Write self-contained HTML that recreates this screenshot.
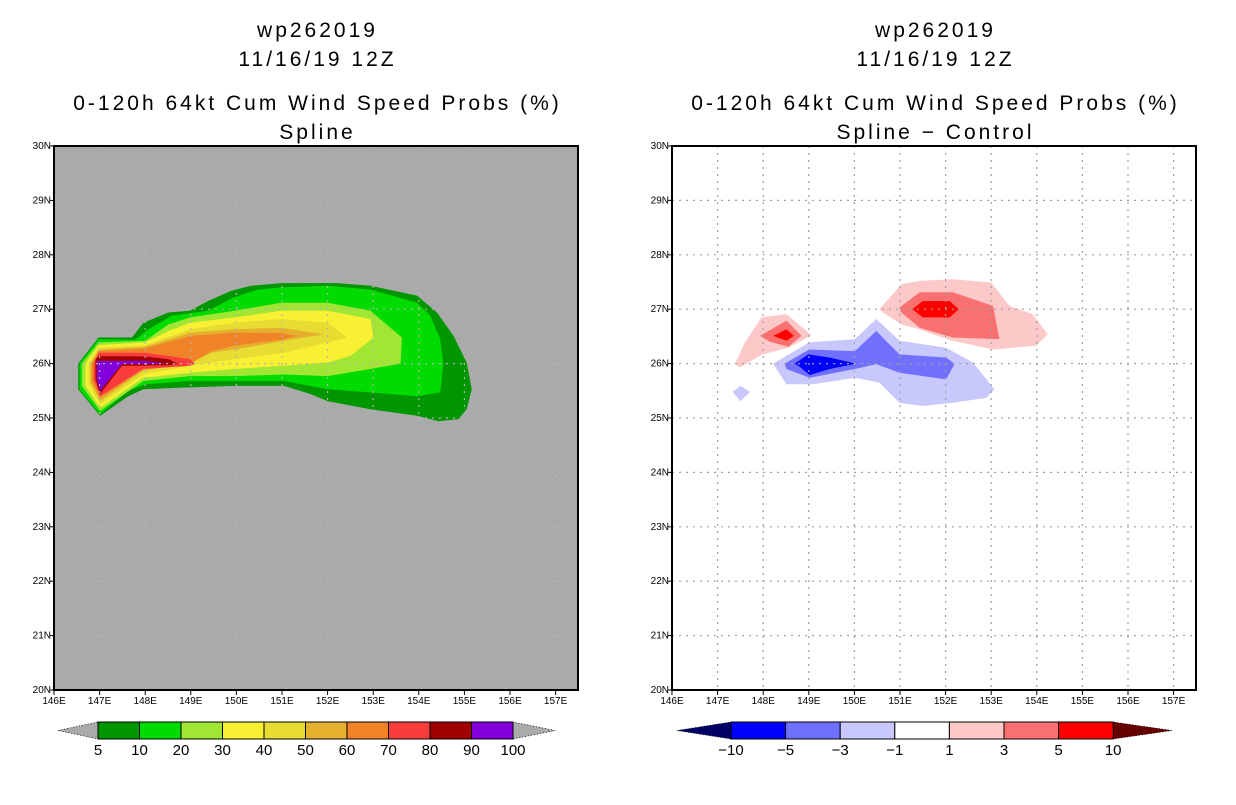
<!DOCTYPE html>
<html><head><meta charset="utf-8"><style>
body{margin:0;background:#fff;width:1236px;height:800px;overflow:hidden}
svg text{font-family:"Liberation Sans",sans-serif}
</style></head><body>
<svg id="root" width="1236" height="800" xmlns="http://www.w3.org/2000/svg"></svg>
<script>
// ---- data: contour polygons [lon,lat] ----
const leftLevels = [5,10,20,30,40,50,60,70,80,90,100];
const leftColors = ['#009600','#00dc00','#a0e632','#f8f032','#e6dc32','#e6af2d','#f08228','#fa3c3c','#a00000','#8200dc'];
const leftPolys = [
 [[146.53,26.0],[146.98,26.48],[147.71,26.48],[147.96,26.75],[148.51,26.94],[148.98,26.97],[149.38,27.15],[149.89,27.34],[150.32,27.43],[150.98,27.48],[152.21,27.48],[152.94,27.43],[153.96,27.25],[154.4,26.94],[154.76,26.51],[155.05,26.02],[155.16,25.53],[155.05,25.16],[154.87,24.98],[154.43,24.94],[153.96,25.04],[152.94,25.16],[152.0,25.31],[151.63,25.44],[151.05,25.59],[149.96,25.59],[148.87,25.56],[147.96,25.53],[147.63,25.4],[147.01,25.04],[146.53,25.53]],
 [[146.56,26.0],[146.98,26.45],[147.78,26.44],[148.07,26.63],[148.58,26.88],[149.38,26.97],[149.92,27.21],[150.47,27.36],[150.98,27.4],[152.0,27.43],[152.94,27.36],[153.96,27.12],[154.25,26.88],[154.47,26.45],[154.54,26.0],[154.47,25.47],[153.96,25.4],[152.94,25.47],[152.0,25.53],[151.05,25.68],[149.96,25.68],[148.98,25.68],[148.0,25.62],[147.63,25.5],[147.01,25.07],[146.56,25.53]],
 [[146.61,26.0],[146.98,26.39],[148.0,26.42],[148.51,26.72],[148.98,26.85],[149.96,26.97],[150.98,27.12],[152.0,27.12],[152.94,26.97],[153.63,26.48],[153.6,26.0],[152.94,25.9],[152.0,25.77],[151.05,25.8],[149.96,25.77],[148.98,25.77],[147.96,25.68],[147.01,25.13],[146.61,25.59]],
 [[146.69,26.0],[146.98,26.34],[148.0,26.39],[148.51,26.6],[148.98,26.75],[149.96,26.85],[150.98,26.97],[152.0,26.97],[152.94,26.82],[153.01,26.48],[152.5,26.14],[152.0,26.02],[151.05,25.96],[149.96,25.9],[148.98,25.83],[147.96,25.74],[147.01,25.19],[146.69,25.59]],
 [[146.76,26.0],[146.98,26.29],[148.0,26.34],[148.98,26.63],[149.96,26.75],[150.98,26.82],[152.0,26.75],[152.43,26.48],[152.0,26.39],[151.05,26.2],[149.96,26.08],[148.98,25.96],[147.96,25.8],[147.01,25.25],[146.76,25.62]],
 [[146.8,26.0],[146.98,26.26],[148.0,26.31],[148.98,26.57],[149.96,26.63],[150.98,26.66],[151.92,26.54],[151.05,26.42],[149.96,26.26],[149.45,26.2],[148.98,26.0],[147.96,25.87],[147.01,25.31],[146.8,25.65]],
 [[146.83,26.0],[146.98,26.23],[148.0,26.28],[148.98,26.51],[149.96,26.57],[150.98,26.56],[151.31,26.51],[150.98,26.44],[149.96,26.33],[149.45,26.23],[148.98,26.0],[147.96,25.9],[147.01,25.37],[146.83,25.68]],
 [[146.87,26.0],[146.98,26.2],[148.0,26.2],[148.51,26.14],[148.98,26.08],[149.09,26.0],[148.98,25.96],[147.96,25.9],[147.01,25.4],[146.87,25.71]],
 [[146.91,26.08],[146.98,26.14],[148.0,26.13],[148.51,26.08],[148.72,26.0],[148.51,25.97],[147.49,25.96],[147.01,25.44],[146.91,25.71]],
 [[146.94,26.05],[148.0,26.05],[148.47,26.0],[147.49,25.99],[147.01,25.5],[146.94,25.71]]
];
const rightLevels = [-10,-5,-3,-1,1,3,5,10];
const rightPolys = [
 {c:'#fcc8c8',p:[[150.55,27.0],[151.03,27.46],[151.43,27.52],[152.16,27.55],[153.0,27.49],[153.4,27.06],[153.91,26.91],[154.24,26.54],[153.99,26.33],[153.04,26.26],[152.16,26.42],[151.72,26.54],[151.43,26.63],[151.03,26.72],[150.63,26.94]]},
 {c:'#fcc8c8',p:[[147.38,25.99],[147.6,26.39],[147.96,26.85],[148.51,26.91],[149.06,26.52],[148.55,26.29],[147.99,26.17],[147.49,25.93]]},
 {c:'#f87070',p:[[150.99,27.03],[151.43,27.31],[152.16,27.31],[153.04,27.06],[153.18,26.45],[152.16,26.48],[151.43,26.66],[151.03,26.94]]},
 {c:'#f87070',p:[[147.93,26.51],[148.51,26.79],[148.84,26.51],[148.55,26.31],[148.15,26.4]]},
 {c:'#ff0000',p:[[151.27,27.0],[151.5,27.15],[152.09,27.15],[152.29,27.0],[152.09,26.85],[151.5,26.85]]},
 {c:'#ff0000',p:[[148.22,26.51],[148.51,26.63],[148.67,26.51],[148.51,26.42]]},
 {c:'#c8c8fc',p:[[148.22,26.0],[149.01,26.39],[150.01,26.45],[150.48,26.82],[150.99,26.42],[152.01,26.29],[152.6,26.02],[153.07,25.53],[152.89,25.37],[152.16,25.28],[151.5,25.22],[150.99,25.28],[150.55,25.65],[150.01,25.74],[149.09,25.62],[148.51,25.62],[148.29,25.9]]},
 {c:'#c8c8fc',p:[[147.33,25.48],[147.5,25.59],[147.71,25.48],[147.5,25.31]]},
 {c:'#7070fc',p:[[148.47,26.0],[149.01,26.26],[150.01,26.23],[150.48,26.6],[150.99,26.17],[152.01,26.11],[152.2,26.0],[152.01,25.71],[150.99,25.83],[150.48,25.99],[150.01,25.9],[149.02,25.74],[148.51,25.9]]},
 {c:'#0000fc',p:[[148.69,26.0],[148.99,26.17],[149.46,26.11],[150.04,26.0],[149.46,25.9],[149.02,25.79],[148.77,25.96]]}
];
const lonTicks = [146,147,148,149,150,151,152,153,154,155,156,157];
const latTicks = [20,21,22,23,24,25,26,27,28,29,30];

const NS='http://www.w3.org/2000/svg';
const root=document.getElementById('root');
function mk(tag,attrs,parent){const e=document.createElementNS(NS,tag);for(const k in attrs)e.setAttribute(k,attrs[k]);(parent||root).appendChild(e);return e;}
function txt(x,y,s,size,anchor,parent){const t=mk('text',{x:x,y:y,'font-size':size,'text-anchor':anchor||'middle',fill:'#000'},parent);t.textContent=s;return t;}

function panel(x0,name,bg,titles){
  const g=mk('g',{});
  
  
  const X=lon=>x0+(lon-146)*45.6, Y=lat=>146+(30-lat)*54.4;
  const fr=mk('rect',{x:x0,y:146,width:524,height:544,fill:bg},g);
  
  
  const cx=x0+262;
  titles.forEach((t,i)=>{const e=txt(cx+1.5,[37,66,110,139][i],t,21,'middle',g);
    e.setAttribute('letter-spacing','3');
    
    });
  return {g,X,Y,x0};
}
function grid(P,col){
  lonTicks.forEach(l=>{if(l>146){const e=mk('line',{x1:P.X(l),x2:P.X(l),y1:146,y2:690,stroke:col,'stroke-width':1.2,'stroke-dasharray':'2,5'},P.g);
    }});
  latTicks.forEach(l=>{if(l>20&&l<30){const e=mk('line',{x1:P.x0,x2:P.x0+524,y1:P.Y(l),y2:P.Y(l),stroke:col,'stroke-width':1.2,'stroke-dasharray':'2,5'},P.g);
    }});
}
function axes(P){
  const f=mk('rect',{x:P.x0,y:146,width:524,height:544,fill:'none',stroke:'#000','stroke-width':2},P.g);
  
  lonTicks.forEach(l=>{mk('line',{x1:P.X(l),x2:P.X(l),y1:690,y2:695,stroke:'#000'},P.g);
    const t=txt(P.X(l),704,l+'E',10,'middle',P.g);
    });
  latTicks.forEach(l=>{mk('line',{x1:P.x0-4,x2:P.x0,y1:P.Y(l),y2:P.Y(l),stroke:'#000'},P.g);
    const t=txt(P.x0-3,P.Y(l)+3,l+'N',10,'end',P.g);
    });
}
function poly(P,pts,col){
  const e=mk('polygon',{points:pts.map(p=>P.X(p[0]).toFixed(1)+','+P.Y(p[1]).toFixed(1)).join(' '),fill:col},P.g);
  
}
function colorbar(name,x0,w,tipL,tipR,colors,labels,tipLc,tipRc){
  const g=mk('g',{});
  
  const y0=722,y1=739,ym=730.5;
  mk('polygon',{points:`${tipL},${ym} ${x0},${y0} ${x0},${y1}`,fill:tipLc,stroke:'#000','stroke-width':0.6,'stroke-dasharray':'1.5,1.5'},g);
  const xe=x0+w*colors.length;
  mk('polygon',{points:`${tipR},${ym} ${xe},${y0} ${xe},${y1}`,fill:tipRc,stroke:'#000','stroke-width':0.6,'stroke-dasharray':'1.5,1.5'},g);
  colors.forEach((c,i)=>{const r=mk('rect',{x:x0+i*w,y:y0,width:w,height:y1-y0,fill:c,stroke:'#000','stroke-width':1},g);
    });
  labels.forEach((l,i)=>{const t=txt(x0+i*w,755,String(l).replace('-','\u2212'),15,'middle',g);
    });
}

// left panel
const L=panel(54,'left-panel','#aaaaaa',['wp262019','11/16/19 12Z','0-120h 64kt Cum Wind Speed Probs (%)','Spline']);
leftPolys.forEach((p,i)=>poly(L,p,leftColors[i]));
grid(L,'#b4b4b4');
axes(L);
colorbar('left-colorbar',98,41.5,58,555,leftColors,leftLevels,'#aaaaaa','#aaaaaa');

// right panel
const R=panel(672,'right-panel','#ffffff',['wp262019','11/16/19 12Z','0-120h 64kt Cum Wind Speed Probs (%)','Spline \u2212 Control']);
rightPolys.forEach(o=>poly(R,o.p,o.c));
grid(R,'#a0a0a0');
axes(R);
const rightColors=['#0000ff','#7070ff','#c8c8ff','#ffffff','#ffc8c8','#f87070','#ff0000'];
colorbar('right-colorbar',731,54.6,677,1172,rightColors,[],'#000064','#640000');
rightLevels.forEach((l,i)=>{const t=txt(731+i*54.6,755,String(l).replace('-','\u2212'),15,'middle');
  });
</script>
</body></html>
